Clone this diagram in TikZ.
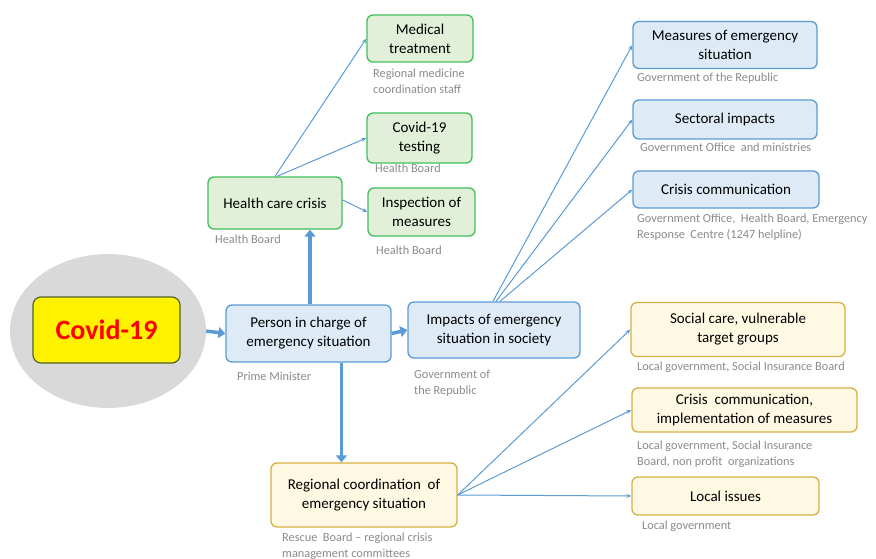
\documentclass[tikz,border=0pt]{standalone}
\usepackage{fontspec}
\setmainfont{Carlito}
\usetikzlibrary{arrows.meta,shapes.geometric}
\definecolor{boxblue}{HTML}{DEEBF7}
\definecolor{lineblue}{HTML}{5B9BD5}
\definecolor{boxgreen}{HTML}{E2F0D9}
\definecolor{linegreen}{HTML}{3FBF5A}
\definecolor{boxgold}{HTML}{FFF8E3}
\definecolor{linegold}{HTML}{D6B042}
\definecolor{notegray}{HTML}{8A8A8A}
\definecolor{olive}{HTML}{4F6228}
\tikzset{
  stagebox/.style={draw, rounded corners=6pt, line width=1.3pt, align=center,
    inner sep=2pt, font=\fontsize{15}{19}\selectfont},
  bluebox/.style={stagebox, draw=lineblue, fill=boxblue},
  greenbox/.style={stagebox, draw=linegreen, fill=boxgreen},
  goldbox/.style={stagebox, draw=linegold, fill=boxgold},
  note/.style={anchor=north west, inner sep=0pt, align=left, text=notegray,
    font=\fontsize{12.3}{15.5}\selectfont},
  thinarrow/.style={draw=lineblue, line width=1pt, -{Stealth[length=5pt,width=4pt]}},
  thickarrow/.style={draw=lineblue, line width=3.5pt, -{Triangle[length=7pt,width=11pt]}}
}
\begin{document}
\begin{tikzpicture}[x=1pt,y=-1pt]
\useasboundingbox (0,0) rectangle (876,559);
% source
\node[ellipse, fill=black!15, minimum width=196, minimum height=154] (virus) at (108,331) {};
\node[draw=olive, line width=1.2pt, fill=yellow, rounded corners=8pt,
  minimum width=147, minimum height=66, text=red, font=\fontsize{28}{30}\selectfont\bfseries]
  (covid) at (106.5,330) {Covid-19};
% main line
\node[bluebox, minimum width=165, minimum height=57] (person) at (308.5,333.5) {Person in charge of\\emergency situation};
\node[bluebox, minimum width=172, minimum height=56] (impacts) at (494,330) {Impacts of emergency\\situation in society};
\node[greenbox, minimum width=134, minimum height=52] (health) at (275,203) {Health care crisis};
\node[goldbox, minimum width=186, minimum height=64] (regional) at (364,495) {Regional coordination\ \ of\\emergency situation};
% health branch
\node[greenbox, minimum width=106, minimum height=47] (medical) at (420,38.5) {Medical\\treatment};
\node[greenbox, minimum width=105, minimum height=50] (testing) at (419.5,138) {Covid-19\\testing};
\node[greenbox, minimum width=107, minimum height=48] (inspect) at (421.5,212) {Inspection of\\measures};
% society branch
\node[bluebox, minimum width=184, minimum height=47] (measures) at (725,45) {Measures of emergency\\situation};
\node[bluebox, minimum width=184, minimum height=39] (sectoral) at (725,119.5) {Sectoral impacts};
\node[bluebox, minimum width=186, minimum height=37] (crisiscomm) at (726,189.5) {Crisis communication};
% regional branch
\node[goldbox, minimum width=214, minimum height=54] (social) at (738,329.5) {Social care, vulnerable\\target groups};
\node[goldbox, minimum width=225, minimum height=44] (implement) at (744.5,410) {Crisis\ \ communication,\\implementation\ of\ measures};
\node[goldbox, minimum width=187, minimum height=38] (local) at (725.5,496) {Local issues};
% responsible bodies
\node[note] (n-health) at (215,235) {Health Board};
\node[note] (n-medical) at (373,69) {Regional medicine\\coordination staff};
\node[note] (n-testing) at (375,164) {Health Board};
\node[note] (n-inspect) at (376,246) {Health Board};
\node[note] (n-person) at (237,372) {Prime Minister};
\node[note] (n-impacts) at (414,370) {Government of\\the Republic};
\node[note] (n-regional) at (282,533) {Rescue\ \ Board -- regional crisis\\management committees};
\node[note] (n-measures) at (637,73) {Government of the Republic};
\node[note] (n-sectoral) at (640,143) {Government Office\ \ and ministries};
\node[note] (n-crisiscomm) at (637,214) {Government Office,\ \ Health Board, Emergency\\Response\ \ Centre (1247 helpline)};
\node[note] (n-social) at (637,362) {Local government, Social Insurance Board};
\node[note] (n-implement) at (637,441) {Local government, Social Insurance\\Board, non profit\ \ organizations};
\node[note] (n-local) at (642,521) {Local government};
% connectors
\draw[thickarrow] (virus.east) -- (person.west);
\draw[thickarrow] (person.east) -- (impacts.west);
\draw[thickarrow] ([xshift=1.5]person.north) -- ([xshift=1.5]person.north |- health.south);
\draw[thickarrow] ([xshift=33]person.south) -- ([xshift=33]person.south |- regional.north);
\draw[thinarrow] (health.north) -- (medical.west);
\draw[thinarrow] ([xshift=2]health.north) -- (testing.west);
\draw[thinarrow] ([yshift=3]health.east) -- (inspect.west);
\foreach \target/\dx in {measures/-1,sectoral/2,crisiscomm/6}
  \draw[thinarrow] ([xshift=\dx]impacts.north) -- (\target.west);
\foreach \target in {social,implement,local}
  \draw[thinarrow] (regional.east) -- (\target.west);
\end{tikzpicture}
\end{document}
